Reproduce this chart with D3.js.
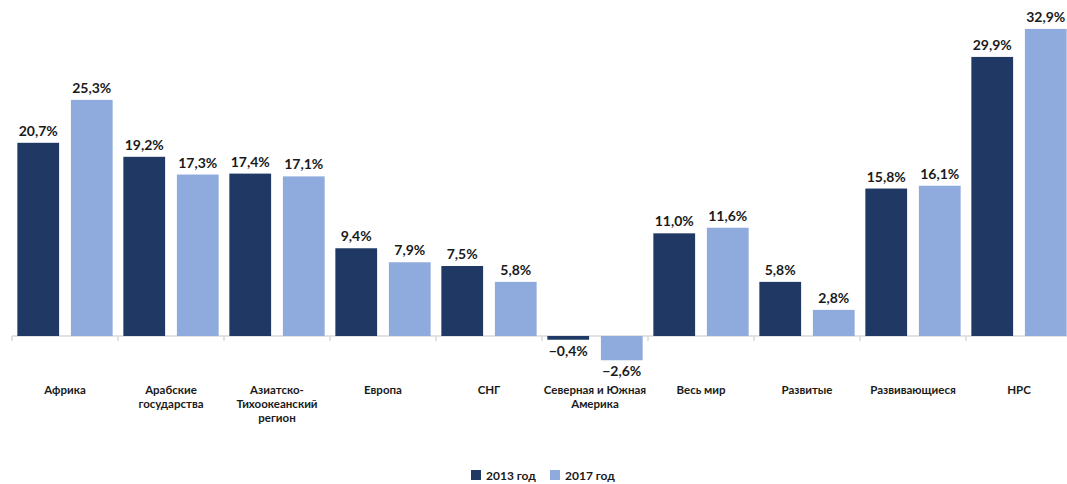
<!DOCTYPE html>
<html><head><meta charset="utf-8">
<script src="https://cdn.jsdelivr.net/npm/d3@7"></script>
<style>body{margin:0;background:#fff;overflow:hidden}svg{display:block}text{font-family:Lato,"Open Sans",sans-serif;font-weight:700;fill:#1a1a1a}</style>
</head><body><svg width="1067" height="484"></svg>
<script>
const categories = [["Африка"],["Арабские","государства"],["Азиатско-","Тихоокеанский","регион"],["Европа"],["СНГ"],["Северная и Южная","Америка"],["Весь мир"],["Развитые"],["Развивающиеся"],["НРС"]];
const series = ["2013 год","2017 год"];
const values2013 = [20.7,19.2,17.4,9.4,7.5,-0.4,11.0,5.8,15.8,29.9];
const values2017 = [25.3,17.3,17.1,7.9,5.8,-2.6,11.6,2.8,16.1,32.9];
const colors = ["#203864","#8faadc"];

const svg = d3.select("svg");
const idx = d3.range(categories.length);
const x = d3.scaleBand().domain(idx).range([12,1072]).paddingInner(0).paddingOuter(0);
const xs = d3.scaleBand().domain(series).range([0,x.bandwidth()]).paddingInner(0.22).paddingOuter(0.1);
const y = d3.scaleLinear().domain([0,36]).range([336,0]);
const fmt = v => (v<0?"\u2212":"") + Math.abs(v).toFixed(1).replace(".",",") + "%";

// axis line and ticks
svg.append("line").attr("x1",12).attr("x2",1072).attr("y1",y(0)).attr("y2",y(0)).attr("stroke","#d9d9d9").attr("stroke-width",1.5);
svg.selectAll(".tk").data(d3.range(categories.length+1)).join("line")
  .attr("x1",i=>12+i*x.step()).attr("x2",i=>12+i*x.step())
  .attr("y1",y(0)).attr("y2",y(0)+5).attr("stroke","#d9d9d9").attr("stroke-width",1.5);

const data = [values2013, values2017];
data.forEach((vals,s)=>{
  const g = svg.append("g");
  g.selectAll("rect").data(idx).join("rect")
    .attr("x",i=>x(i)+xs(series[s])).attr("width",xs.bandwidth())
    .attr("y",i=>y(Math.max(0,vals[i]))).attr("height",i=>Math.abs(y(vals[i])-y(0)))
    .attr("fill",colors[s]);
  g.selectAll("text").data(idx).join("text")
    .attr("x",i=>x(i)+xs(series[s])+xs.bandwidth()/2)
    .attr("y",i=>vals[i]>=0 ? y(vals[i])-7 : y(vals[i])+16)
    .attr("text-anchor","middle").attr("font-size",14).text(i=>fmt(vals[i]));
});

// category labels
const cl = svg.selectAll(".cl").data(idx).join("text")
  .attr("text-anchor","middle").attr("font-size",11.5)
  .attr("transform",i=>`translate(${x(i)+x.bandwidth()/2},394)`);
cl.selectAll("tspan").data(i=>categories[i]).join("tspan")
  .attr("x",0).attr("dy",(d,j)=>j===0?0:14).text(d=>d);

// legend
const lg = svg.append("g").attr("transform","translate(471,476)");
series.forEach((s,k)=>{
  const gx = k*79;
  lg.append("rect").attr("x",gx).attr("y",-6).attr("width",10).attr("height",10).attr("fill",colors[k]);
  lg.append("text").attr("x",gx+15).attr("y",4).attr("font-size",12).text(s);
});
</script></body></html>
